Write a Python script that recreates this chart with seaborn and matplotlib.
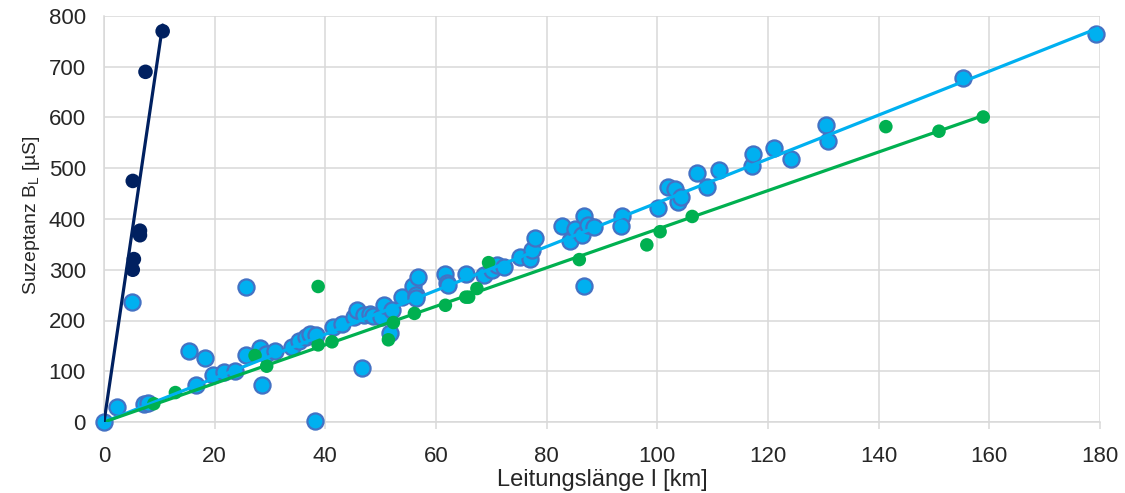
import numpy as np
import pandas as pd
import seaborn as sns
import matplotlib
matplotlib.use("Agg")
import matplotlib.pyplot as plt

# light blue series (km, uS)
blue_x = [0, 2.4, 7.2, 8.0, 5.1, 15.4, 16.7, 18.25, 19.75, 21.6, 23.7, 25.7, 25.7,
          28.2, 28.5, 29.3, 30.9, 33.9, 35.3, 36.5, 37.2, 38.4, 38.2, 41.3, 42.95,
          45.1, 45.7, 46.7, 46.9, 48.0, 48.7, 50.0, 50.6, 51.6, 52.1, 53.8, 55.9,
          56.4, 56.4, 56.8, 61.6, 61.9, 62.2, 65.5, 68.6, 70.1, 71.0, 72.2, 75.2,
          76.9, 77.3, 77.9, 82.7, 84.2, 85.1, 86.3, 86.75, 87.5, 88.6, 86.75, 93.6,
          93.5, 100.2, 102.0, 103.2, 103.8, 104.2, 107.1, 108.9, 111.2, 117.1, 117.2,
          121.0, 124.1, 130.5, 130.9, 155.2, 179.2]
blue_y = [0, 30, 35, 37, 236, 140, 73, 127, 92, 98, 101, 133, 266,
          145, 72, 134, 140, 147, 160, 168, 173, 171, 1, 187, 193,
          207, 220, 107, 211, 212, 208, 207, 230, 175, 221, 247, 267,
          250, 244, 285, 291, 273, 270, 292, 290, 300, 309, 306, 326,
          322, 339, 362, 386, 357, 380, 368, 405, 388, 385, 267, 405,
          386, 422, 464, 460, 434, 443, 491, 464, 497, 504, 528,
          539, 518, 585, 553, 677, 765]

# green series
green_x = [9.0, 12.9, 27.3, 29.4, 38.7, 38.7, 41.2, 51.4, 52.3, 56.1, 61.7, 65.4,
           65.9, 67.4, 69.5, 85.9, 98.1, 100.5, 106.3, 141.3, 150.9, 158.9]
green_y = [36, 58, 131, 110, 267, 152, 158, 162, 196, 214, 230, 246,
           246, 263, 314, 320, 349, 375, 405, 582, 573, 601]

# dark blue series
navy_x = [5.2, 5.4, 6.5, 6.5, 5.2, 7.5, 10.6]
navy_y = [300, 321, 368, 377, 475, 690, 770]

# trendlines through origin: slope, end of line
trend_names = ["blue", "green", "navy"]
trend_slope = [4.32, 3.80, 73.8]
trend_xmax = [179.6, 159.0, 10.6]

colors = {"blue": "#00B0F0", "green": "#00B050", "navy": "#002060"}

sns.set_style("white")
plt.rcParams["font.family"] = ["Liberation Sans", "DejaVu Sans"]
plt.rcParams["mathtext.default"] = "regular"

fig = plt.figure(figsize=(11.25, 4.93), dpi=100)
ax = fig.add_axes([104 / 1125, 1 - 422 / 493, 996 / 1125, 406 / 493])

blue = pd.DataFrame({"x": blue_x, "y": blue_y})
green = pd.DataFrame({"x": green_x, "y": green_y})
navy = pd.DataFrame({"x": navy_x, "y": navy_y})

sns.scatterplot(data=blue, x="x", y="y", ax=ax, s=135, color=colors["blue"],
                edgecolor="#4472C4", linewidth=1.6, clip_on=False, zorder=3)
sns.scatterplot(data=green, x="x", y="y", ax=ax, s=95, color=colors["green"],
                edgecolor="none", clip_on=False, zorder=4)
sns.scatterplot(data=navy, x="x", y="y", ax=ax, s=110, color=colors["navy"],
                edgecolor="none", clip_on=False, zorder=4)

for name, k, xm in zip(trend_names, trend_slope, trend_xmax):
    line = pd.DataFrame({"x": [0, xm], "y": [0, k * xm]})
    sns.lineplot(data=line, x="x", y="y", ax=ax, color=colors[name],
                 linewidth=2.3, zorder=5)

ax.set_xlim(0, 180)
ax.set_ylim(0, 800)
ax.set_xticks(np.arange(0, 181, 20))
ax.set_yticks(np.arange(0, 801, 100))
ax.grid(True, color="#D9D9D9", linewidth=1.1)
ax.set_axisbelow(True)
for s in ax.spines.values():
    s.set_visible(False)
for side in ["bottom", "left"]:
    ax.spines[side].set_visible(True)
    ax.spines[side].set_color("#D9D9D9")
    ax.spines[side].set_linewidth(1.1)

ax.tick_params(axis="x", direction="out", length=5, width=1.1, color="#D9D9D9",
               labelsize=16, pad=12, bottom=True)
ax.tick_params(axis="y", length=0, labelsize=16, pad=13)

ax.set_xlabel("Leitungslänge l [km]", fontsize=17)
ax.xaxis.set_label_coords(0.5, -0.116)
ax.set_ylabel("Suzeptanz B$_{L}$ [µS]", fontsize=14)
ax.yaxis.set_label_coords(-0.062, 0.51)

fig.savefig("out.png", dpi=100)
